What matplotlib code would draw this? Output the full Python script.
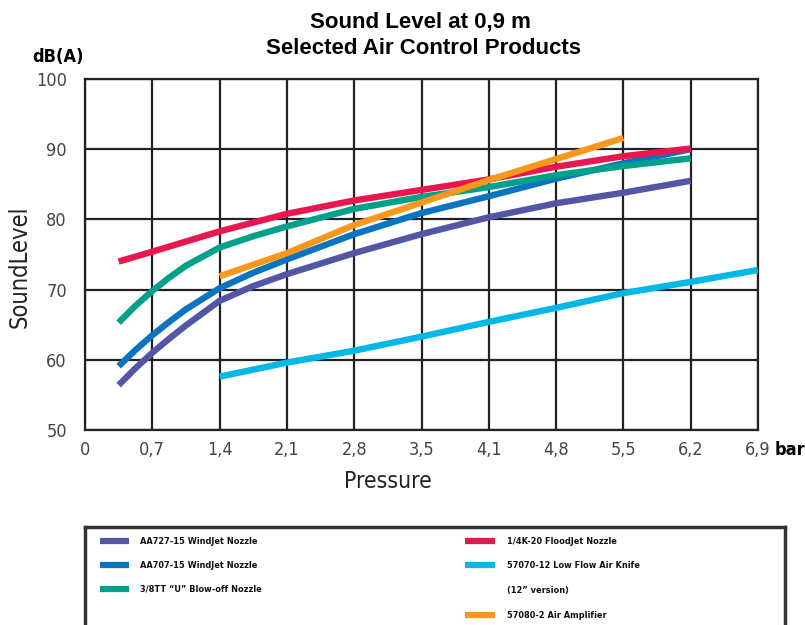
import numpy as np
import matplotlib
matplotlib.use("Agg")
import matplotlib.pyplot as plt

plt.rcParams['font.family'] = ['DejaVu Sans']
plt.rcParams['font.stretch'] = 'condensed'

# pressure axis is evenly spaced in psi, labelled in bar
tick_psi = [0, 10, 20, 30, 40, 50, 60, 70, 80, 90, 100]
tick_bar = ["0", "0,7", "1,4", "2,1", "2,8", "3,5", "4,1", "4,8", "5,5", "6,2", "6,9"]

# readings (psi, dB(A))
psi_a = [5, 7.5, 10, 12.5, 15, 20, 25, 30, 40, 50, 60, 70, 80, 90]
aa727 = [56.4, 58.8, 61.0, 63.0, 64.9, 68.4, 70.5, 72.2, 75.2, 77.9, 80.3, 82.3, 83.8, 85.5]
aa707 = [59.1, 61.4, 63.5, 65.4, 67.2, 70.2, 72.4, 74.3, 77.9, 80.9, 83.3, 85.8, 88.0, 90.0]
tt38 = [65.3, 67.7, 69.8, 71.7, 73.4, 76.0, 77.6, 79.0, 81.5, 83.2, 84.6, 86.3, 87.6, 88.7]

psi_r = [5, 10, 20, 30, 40, 50, 60, 70, 80, 90]
k420 = [74.0, 75.4, 78.3, 80.8, 82.7, 84.2, 85.7, 87.5, 89.0, 90.1]

psi_c = [20, 30, 40, 50, 60, 70, 80, 90, 100]
knife = [57.6, 59.6, 61.3, 63.3, 65.4, 67.4, 69.5, 71.1, 72.8]

psi_o = [20, 30, 40, 50, 60, 70, 80]
amp = [71.9, 75.2, 79.2, 82.4, 85.6, 88.6, 91.6]

c_purple = "#5356a4"
c_blue = "#0a74c0"
c_green = "#00a08a"
c_red = "#e8174f"
c_cyan = "#00b8e6"
c_orange = "#f7981d"

fig = plt.figure(figsize=(8.05, 6.25), dpi=100)
ax = fig.add_axes([85/805, 1 - 430/625, 673/805, 351/625])

lw = 4.6
kw = dict(lw=lw, solid_capstyle='butt', solid_joinstyle='round', zorder=3)
ax.plot(psi_a, aa727, color=c_purple, **kw)
ax.plot(psi_a, aa707, color=c_blue, **kw)
ax.plot(psi_a, tt38, color=c_green, **kw)
ax.plot(psi_r, k420, color=c_red, **kw)
ax.plot(psi_c, knife, color=c_cyan, **kw)
ax.plot(psi_o, amp, color=c_orange, **kw)

ax.set_xlim(0, 100)
ax.set_ylim(50, 100)
ax.set_xticks(tick_psi)
ax.set_xticklabels(tick_bar)
ax.set_yticks(range(50, 101, 10))
ax.tick_params(length=0, labelsize=13, labelcolor="#444444")
ax.tick_params(axis='x', pad=8)
ax.tick_params(axis='y', pad=13)
ax.grid(True, color="#222222", lw=1.6)
ax.set_axisbelow(True)
for s in ax.spines.values():
    s.set_color("#222222")
    s.set_linewidth(1.6)

fig.text(20/805, 1 - 267/625, "SoundLevel", rotation=90, ha='center', va='center',
         fontsize=17, color="#222222")
fig.text(388/805, 1 - 482/625, "Pressure", ha='center', va='center',
         fontsize=16.5, color="#222222")

fig.text(420/805, 1 - 22/625, "Sound Level at 0,9 m", ha='center', va='center',
         fontsize=16, fontweight='bold', family='Liberation Sans', stretch='normal')
fig.text(423/805, 1 - 49/625, "Selected Air Control Products", ha='center', va='center',
         fontsize=16, fontweight='bold', family='Liberation Sans', stretch='normal')
fig.text(58/805, 1 - 57/625, "dB(A)", ha='center', va='center', fontsize=13, fontweight='bold')
fig.text(790/805, 1 - 450/625, "bar", ha='center', va='center', fontsize=13, fontweight='bold')

# legend box, cut off at the bottom like the original
lg = fig.add_axes([85/805, -10/625, 700/805, (625 - 527 + 10)/625])
lg.set_xlim(0, 700)
lg.set_ylim(625 + 10, 527)
lg.set_xticks([])
lg.set_yticks([])
for s in lg.spines.values():
    s.set_color("#333333")
    s.set_linewidth(2.5)

left_items = [(c_purple, "AA727-15 WindJet Nozzle", 541),
              (c_blue, "AA707-15 WindJet Nozzle", 565),
              (c_green, "3/8TT \u201cU\u201d Blow-off Nozzle", 589)]
right_items = [(c_red, "1/4K-20 FloodJet Nozzle", 541),
               (c_cyan, "57070-12 Low Flow Air Knife", 565),
               (None, "(12\u201d version)", 590),
               (c_orange, "57080-2 Air Amplifier", 615)]
for col, label, y in left_items:
    lg.plot([15, 44], [y, y], color=col, lw=4.5, solid_capstyle='butt')
    lg.text(55, y, label, fontsize=6.6, fontweight='bold', va='center', color="#111111")
for col, label, y in right_items:
    if col is not None:
        lg.plot([380, 410], [y, y], color=col, lw=4.5, solid_capstyle='butt')
    lg.text(422, y, label, fontsize=6.6, fontweight='bold', va='center', color="#111111")

fig.savefig("out.png", dpi=100)
